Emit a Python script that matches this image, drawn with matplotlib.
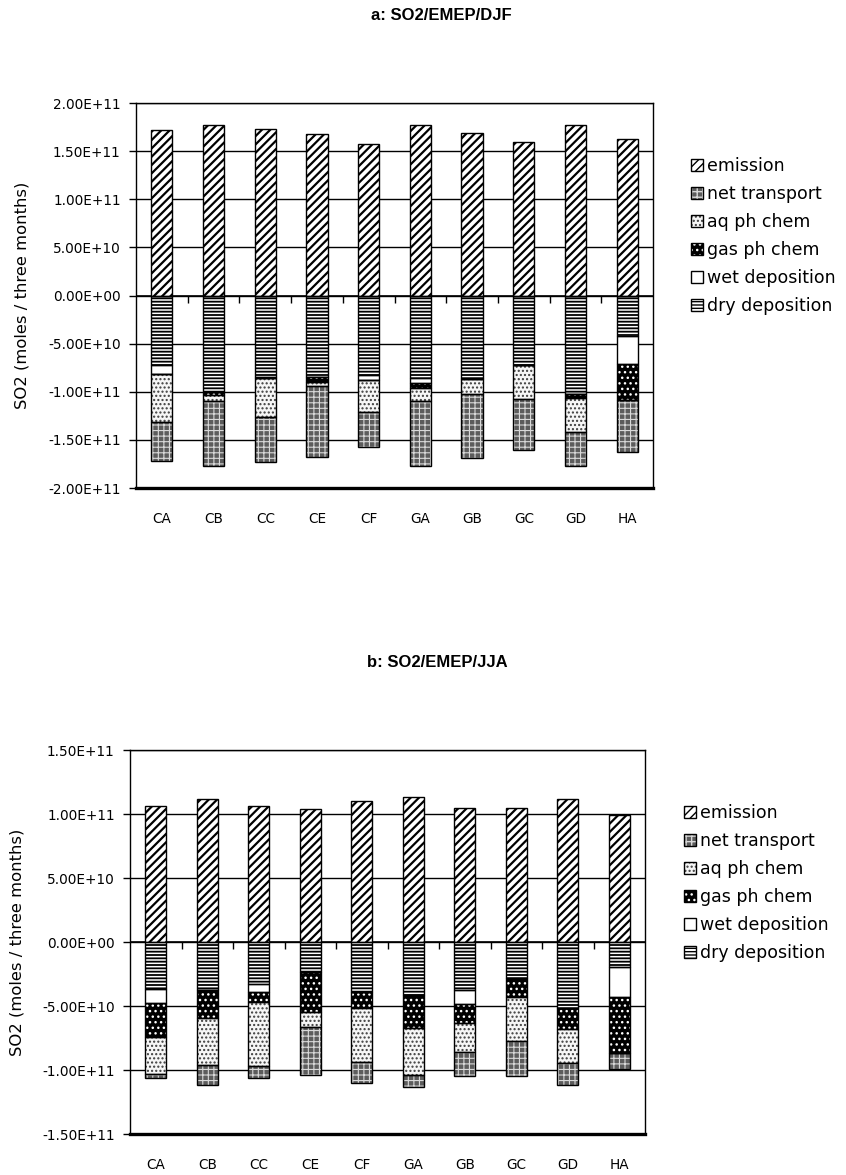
import numpy as np
import matplotlib
matplotlib.use("Agg")
import matplotlib.pyplot as plt
from matplotlib.patches import Patch
from matplotlib.ticker import MultipleLocator, FuncFormatter

# ---------------------------------------------------------------- data
regions = ["CA", "CB", "CC", "CE", "CF", "GA", "GB", "GC", "GD", "HA"]
UNIT = 1e10  # values below are in units of 1e10 moles / three months

# winter (DJF)
djf_emission = [17.2, 17.7, 17.3, 16.8, 15.7, 17.7, 16.9, 16.0, 17.7, 16.3]
djf_dry_dep = [7.25, 10.0, 8.46, 8.5, 8.3, 8.6, 8.6, 7.25, 10.2, 4.23]
djf_wet_dep = [0.87, 0.0, 0.1, 0.0, 0.5, 0.5, 0.1, 0.0, 0.0, 2.84]
djf_gas_chem = [0.0, 0.3, 0.0, 0.5, 0.0, 0.5, 0.0, 0.0, 0.5, 3.81]
djf_aq_chem = [5.03, 0.7, 4.1, 0.4, 3.3, 1.4, 1.5, 3.47, 3.47, 0.0]
djf_net_transport = [4.05, 6.7, 4.64, 7.4, 3.6, 6.7, 6.7, 5.28, 3.53, 5.42]

# summer (JJA)
jja_emission = [10.6, 11.15, 10.6, 10.4, 11.0, 11.3, 10.5, 10.5, 11.15, 9.95]
jja_dry_dep = [3.65, 3.72, 3.3, 2.34, 3.9, 4.14, 3.78, 2.8, 5.18, 1.95]
jja_wet_dep = [1.14, 0.0, 0.6, 0.0, 0.0, 0.0, 1.06, 0.0, 0.0, 2.37]
jja_gas_chem = [2.66, 2.19, 0.76, 3.1, 1.28, 2.6, 1.46, 1.47, 1.64, 4.38]
jja_aq_chem = [2.89, 3.70, 5.03, 1.17, 4.17, 3.65, 2.27, 3.46, 2.66, 0.0]
jja_net_transport = [0.26, 1.54, 0.91, 3.79, 1.65, 0.91, 1.93, 2.77, 1.67, 1.25]

legend_labels = ["emission", "net transport", "aq ph chem", "gas ph chem",
                 "wet deposition", "dry deposition"]

# ---------------------------------------------------------------- styles
W, H, DPI = 846, 1175, 100
FONT = "DejaVu Sans"
plt.rcParams["font.family"] = [FONT]

# fill colour, hatch, hatch colour, hatch line width
STYLES = {
    "emission": ("white", "////", "black", 1.6),
    "net transport": ("#5c5c5c", "+++", "#d8d8d8", 0.8),
    "aq ph chem": ("#f6f6f6", "....", "#3c3c3c", 1.0),
    "gas ph chem": ("black", "...", "white", 1.0),
    "wet deposition": ("white", "", "black", 1.0),
    "dry deposition": ("white", "-----", "black", 1.3),
}
BAR_W = 0.41


def patterned_bar(ax, x, height, bottom, key):
    face, hatch, hcol, hlw = STYLES[key]
    with plt.rc_context({"hatch.linewidth": hlw}):
        ax.bar(x, height, BAR_W, bottom=bottom, color=face, hatch=hatch,
               edgecolor=hcol, linewidth=0, zorder=3)
    ax.bar(x, height, BAR_W, bottom=bottom, fill=False, edgecolor="black",
           linewidth=1.0, zorder=4)


def legend_handle(key):
    face, hatch, hcol, hlw = STYLES[key]
    with plt.rc_context({"hatch.linewidth": hlw}):
        fill = Patch(facecolor=face, hatch=hatch, edgecolor=hcol, linewidth=0)
    edge = Patch(fill=False, edgecolor="black", linewidth=1.0)
    return (fill, edge)


def budget_panel(fig, rect_px, ylim, emission, dry, wet, gas, aq, net,
                 title, title_xy, ylabel_x, legend_xy, tick_len_pt):
    left, top, right, bottom = rect_px
    ax = fig.add_axes([left / W, 1 - bottom / H, (right - left) / W,
                       (bottom - top) / H])
    x = np.arange(len(regions))

    em = np.asarray(emission) * UNIT
    patterned_bar(ax, x, em, 0, "emission")

    # losses stack downward from zero
    losses = [("dry deposition", dry), ("wet deposition", wet),
              ("gas ph chem", gas), ("aq ph chem", aq),
              ("net transport", net)]
    base = np.zeros(len(regions))
    for key, vals in losses:
        v = np.asarray(vals) * UNIT
        patterned_bar(ax, x, -v, base, key)
        base = base - v

    ax.set_xlim(-0.5, len(regions) - 0.5)
    ax.set_ylim(*ylim)
    ax.yaxis.set_major_locator(MultipleLocator(5e10))
    ax.yaxis.set_major_formatter(FuncFormatter(lambda v, p: f"{v:.2E}"))
    ax.set_axisbelow(True)
    ax.yaxis.grid(True, color="black", linewidth=1.0, zorder=1)
    ax.tick_params(axis="y", direction="out", length=5, width=1, pad=6,
                   labelsize=9.8, colors="black")
    ax.set_xticks(x, regions)
    ax.tick_params(axis="x", length=0, pad=17, labelsize=9.8)
    for name, sp in ax.spines.items():
        sp.set_color("black")
        sp.set_linewidth(1.0)
    ax.spines["bottom"].set_linewidth(2.4)

    # category axis crossing at zero with ticks between categories
    ax.axhline(0, color="black", linewidth=1.2, zorder=2)
    ax.plot(np.arange(0.5, len(regions) - 0.5), np.zeros(len(regions) - 1),
            linestyle="none", marker=3, markersize=tick_len_pt,
            markeredgewidth=1.0, color="black", zorder=2)

    fig.text(title_xy[0] / W, 1 - title_xy[1] / H, title, ha="center",
             va="center", fontsize=12, weight="bold",
             family=["Liberation Sans", "DejaVu Sans"])
    fig.text(ylabel_x / W, 1 - ((top + bottom) / 2) / H,
             "SO2 (moles / three months)", rotation=90, ha="center",
             va="center", fontsize=11.8)

    handles = [legend_handle(k) for k in legend_labels]
    fig.legend(handles, legend_labels, loc="upper left",
               bbox_to_anchor=(legend_xy[0] / W, 1 - legend_xy[1] / H),
               frameon=False, fontsize=12.5, handlelength=0.7,
               handleheight=0.7, handletextpad=0.25, labelspacing=0.58,
               borderpad=0, borderaxespad=0)
    return ax


fig = plt.figure(figsize=(W / DPI, H / DPI), dpi=DPI)
fig.patch.set_facecolor("white")

budget_panel(fig, (136, 103, 653, 488), (-2e11, 2e11),
             djf_emission, djf_dry_dep, djf_wet_dep, djf_gas_chem,
             djf_aq_chem, djf_net_transport,
             "a: SO2/EMEP/DJF", (441, 16), 22, (691, 157), 5)

budget_panel(fig, (130, 750, 645, 1134), (-1.5e11, 1.5e11),
             jja_emission, jja_dry_dep, jja_wet_dep, jja_gas_chem,
             jja_aq_chem, jja_net_transport,
             "b: SO2/EMEP/JJA", (437, 663), 17, (684, 804), 5)

fig.savefig("out.png", dpi=DPI, facecolor="white")
